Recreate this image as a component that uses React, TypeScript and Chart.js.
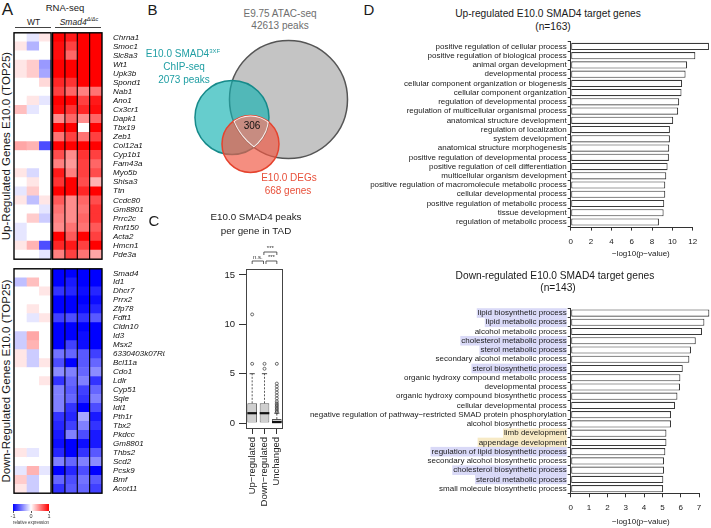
import React, { useEffect, useRef } from 'react';
import { Chart, registerables } from 'chart.js';

Chart.register(...registerables);

const FONT = "'Liberation Sans', Arial, Helvetica, sans-serif";
Chart.defaults.font.family = FONT;
Chart.defaults.color = '#1a1a1a';

// ---------------- Panel A : RNA-seq heatmaps ----------------
const heatSamples = ['WT 1', 'WT 2', 'WT 3', 'Smad4 1', 'Smad4 2', 'Smad4 3', 'Smad4 4'];
const heatWTCount = 3;
const colorbarTicks = [-1, 0, 1];

const upGenes = ['Chrna1', 'Smoc1', 'Slc8a3', 'Wt1', 'Upk3b', 'Spond1', 'Nab1', 'Ano1', 'Cx3cr1', 'Dapk1', 'Tbx19', 'Zeb1', 'Col12a1', 'Cyp1b1', 'Fam43a', 'Myo5b', 'Shisa3', 'Ttn', 'Ccdc80', 'Gm8801', 'Prrc2c', 'Rnf150', 'Acta2', 'Hmcn1', 'Pde3a'];
const upExpr = [
  [0, -0.1, 0.1, 1, 0.9, 1, 1],
  [0.1, -0.3, 0, 0.95, 0.75, 1, 1],
  [0, 0, 0, 0.95, 0.6, 1, 1],
  [0.1, 0.2, -0.4, 1, 1, 1, 1],
  [0.1, 0.2, -0.35, 1, 1, 1, 1],
  [0, 0, 0.15, 0.85, 0.8, 1, 1],
  [0, 0, 0, 0.75, 0.6, 0.5, 0.55],
  [0, 0.1, -0.1, 1, 1, 0.75, 0.9],
  [0.25, -0.1, 0, 0.95, 0.8, 0.85, 0.95],
  [0, 0, 0, 0.45, 0.6, 0.45, 0.6],
  [0, 0, 0, 1, 1, 0, 1],
  [0, 0, 0, 0.55, 0.75, 0.55, 0.75],
  [0.35, 0.3, -0.7, 1, 1, 1, 1],
  [0, 0, 0, 0.7, 0.45, 0.8, 0.75],
  [0, 0, 0, 0.5, 0.4, 0.75, 0.6],
  [0.1, -0.15, 0, 0.9, 0.5, 0.75, 0.7],
  [0, 0.1, 0, 0.8, 1, 0.7, 0.3],
  [-0.1, 0.2, 0, 1, 1, 0.85, 1],
  [0.1, -0.25, 0.1, 0.65, 0.45, 0.6, 0.7],
  [0, 0, -0.1, 0.55, 0.45, 0.55, 0.8],
  [0, 0.2, -0.2, 0.5, 0.45, 0.6, 0.8],
  [-0.1, 0, 0, 0.45, 0.55, 0.55, 0.65],
  [-0.1, 0, 0, 1, 0.65, 1, 0.75],
  [0.1, 0.3, -0.7, 0.85, 0.9, 0.75, 1],
  [0, 0, -0.1, 0.5, 0.75, 0.55, 0.35],
];

const downGenes = ['Smad4', 'Id1', 'Dhcr7', 'Prrx2', 'Zfp78', 'Fdft1', 'Cldn10', 'Id3', 'Msx2', '6330403k07Rik', 'Bcl11a', 'Cdo1', 'Ldlr', 'Cyp51', 'Sqle', 'Idi1', 'Pth1r', 'Tbx2', 'Pkdcc', 'Gm8801', 'Thbs2', 'Scd2', 'Pcsk9', 'Bmf', 'Acot11'];
const downExpr = [
  [0, 0, 0, -1, -1, -1, -1],
  [-0.25, 0.25, 0, -1, -0.9, -1, -1],
  [0, 0, 0.1, -0.8, -0.85, -0.95, -0.85],
  [0, 0, 0, -1, -1, -1, -0.95],
  [0, 0.1, 0, -1, -1, -0.95, -0.85],
  [0, -0.1, 0.1, -0.75, -0.7, -0.8, -0.65],
  [0, 0, 0, -1, -1, -1, -1],
  [-0.2, 0.35, 0, -1, -1, -0.95, -1],
  [-0.2, 0.3, 0, -1, -0.75, -0.95, -1],
  [0.1, -0.2, 0, -0.55, -0.6, -0.65, -0.75],
  [0.1, -0.2, 0.1, -0.7, -1, -0.65, -0.6],
  [0, 0, 0, -0.45, -0.5, -0.6, -0.45],
  [0, 0, 0.1, -0.8, -0.6, -0.5, -0.8],
  [0, 0, 0, -0.5, -0.65, -0.75, -0.6],
  [0, 0, 0, -0.5, -0.6, -0.8, -0.5],
  [0, 0, 0, -0.5, -0.8, -1, -0.7],
  [0, 0, 0, -0.8, -0.85, -0.35, -0.9],
  [0, 0, 0, -0.85, -0.75, -0.5, -0.8],
  [0, 0, 0, -0.9, -0.5, -0.7, -0.9],
  [0, 0, 0, -0.95, -1, -0.95, -0.9],
  [0.1, -0.1, 0, -0.85, -1, -0.8, -0.65],
  [0, 0, 0, -0.5, -0.6, -0.5, -0.45],
  [-0.1, 0.3, -0.1, -1, -0.85, -0.7, -1],
  [0.2, -0.2, 0, -0.6, -0.7, -0.55, -0.65],
  [0.1, -0.2, 0, -0.8, -0.65, -0.6, -0.75],
];

// ---------------- Panel B : Venn ----------------
const vennNames = ['E9.75 ATAC-seq', 'E10.0 SMAD4 ChIP-seq', 'E10.0 DEGs'];
const vennCounts = [42613, 2073, 668];
const vennTripleOverlap = 306;

// ---------------- Panel C : box plot ----------------
const boxCategories = ['Up\u2212regulated', 'Down\u2212regulated', 'Unchanged'];
const boxQ1 = [0, 0, 0];
const boxMedian = [1, 1, 0.1];
const boxQ3 = [2, 2, 0.4];
const boxWhiskerHigh = [5, 5, 1];
const boxOutliers = [
  [6, 11],
  [5.5, 6],
  [1.1, 1.25, 1.4, 1.55, 1.7, 1.85, 2, 2.2, 2.5, 2.8, 3.1, 3.4, 3.7, 4, 6],
];
const boxYTicks = [0, 5, 10, 15];
const sigLabels = ['n.s.', '***', '***'];

// ---------------- Panel D : GO enrichment ----------------
const upTerms = [
  'positive regulation of cellular process',
  'positive regulation of biological process',
  'animal organ development',
  'developmental process',
  'cellular component organization or biogenesis',
  'cellular component organization',
  'regulation of developmental process',
  'regulation of multicellular organismal process',
  'anatomical structure development',
  'regulation of localization',
  'system development',
  'anatomical structure morphogenesis',
  'positive regulation of developmental process',
  'positive regulation of cell differentiation',
  'multicellular organism development',
  'positive regulation of macromolecule metabolic process',
  'cellular developmental process',
  'positive regulation of metabolic process',
  'tissue development',
  'regulation of metabolic process',
];
const upLogP = [13.6, 12.26, 11.45, 11.3, 10.96, 10.9, 10.67, 10.57, 10.08, 9.76, 9.76, 9.69, 9.66, 9.53, 9.4, 9.3, 9.3, 9.2, 9.14, 8.68];
const upXTicks = [0, 2, 4, 6, 8, 10, 12];

const downTerms = [
  'lipid biosynthetic process',
  'lipid metabolic process',
  'alcohol metabolic process',
  'cholesterol metabolic process',
  'sterol metabolic process',
  'secondary alcohol metabolic process',
  'sterol biosynthetic process',
  'organic hydroxy compound metabolic process',
  'developmental process',
  'organic hydroxy compound biosynthetic process',
  'cellular developmental process',
  'negative regulation of pathway\u2212restricted SMAD protein phosphorylation',
  'alcohol biosynthetic process',
  'limb development',
  'appendage development',
  'regulation of lipid biosynthetic process',
  'secondary alcohol biosynthetic process',
  'cholesterol biosynthetic process',
  'steroid metabolic process',
  'small molecule biosynthetic process',
];
const downLogP = [7.56, 7.29, 7.16, 6.82, 6.56, 6.47, 6.11, 5.98, 5.96, 5.82, 5.69, 5.47, 5.47, 5.22, 5.22, 5.16, 5.09, 5.09, 5.05, 5.04];
const downTermGroup = ['lipid', 'lipid', '', 'lipid', 'lipid', '', 'lipid', '', '', '', '', '', '', 'limb', 'limb', 'lipid', '', 'lipid', 'lipid', ''];
const downXTicks = [0, 1, 2, 3, 4, 5, 6, 7];

// ---------------- styles / layout constants ----------------
const GROUP_GAP = 0.12;
const HL_COLORS = { lipid: '#d9d9f7', limb: '#f7eac6', '': 'rgba(0,0,0,0)' };
const VENN_GEOM = [
  { x: 0, y: 0, r: 1 },
  { x: -0.958, y: -0.305, r: 0.627 },
  { x: -0.644, y: -0.754, r: 0.483 },
];
const VENN_FILL = ['rgba(196,196,196,1)', 'rgba(20,178,178,0.65)', 'rgba(240,88,68,0.68)'];
const VENN_BORDER = ['#555555', '#168a8a', '#e5432e'];
const BOX_FRAC = 0.78;

function heatColor(v: number) {
  const t = Math.max(-1, Math.min(1, v));
  if (t >= 0) {
    const c = Math.round(255 * (1 - t));
    return `rgb(255,${c},${c})`;
  }
  const c = Math.round(255 * (1 + t));
  return `rgb(${c},${c},255)`;
}

const heatFramePlugin = {
  id: 'heatFrame',
  afterDatasetsDraw(chart: any) {
    const { ctx, chartArea } = chart;
    const xs = chart.scales.x;
    const p = (v: number) => xs.getPixelForValue(v);
    const nMut = heatSamples.length - heatWTCount;
    const m0 = heatWTCount + GROUP_GAP;
    const h = chartArea.bottom - chartArea.top;
    ctx.save();
    ctx.strokeStyle = '#000';
    ctx.lineWidth = 1.4;
    ctx.strokeRect(p(0), chartArea.top, p(heatWTCount) - p(0), h);
    ctx.strokeRect(p(m0), chartArea.top, p(m0 + nMut) - p(m0), h);
    ctx.lineWidth = 1.1;
    for (let k = 1; k < nMut; k++) {
      ctx.beginPath();
      ctx.moveTo(p(m0 + k), chartArea.top);
      ctx.lineTo(p(m0 + k), chartArea.bottom);
      ctx.stroke();
    }
    ctx.restore();
  },
};

function heatmapConfig(genes: string[], rows: number[][]) {
  const datasets: any[] = [];
  heatSamples.forEach((s, j) => {
    if (j === heatWTCount) {
      datasets.push({ label: 'gap', data: genes.map(() => GROUP_GAP), backgroundColor: 'rgba(0,0,0,0)' });
    }
    datasets.push({ label: s, data: genes.map(() => 1), backgroundColor: rows.map((r) => heatColor(r[j])) });
  });
  return {
    type: 'bar',
    data: { labels: genes, datasets },
    options: {
      indexAxis: 'y',
      responsive: false,
      animation: false,
      events: [],
      layout: { padding: { left: 14, top: 5, bottom: 5, right: 0 } },
      datasets: { bar: { barPercentage: 1, categoryPercentage: 1, borderWidth: 0 } },
      plugins: { legend: { display: false }, tooltip: { enabled: false } },
      scales: {
        x: { type: 'linear', stacked: true, display: false, min: 0, max: heatSamples.length + GROUP_GAP },
        y: {
          type: 'category',
          stacked: true,
          position: 'right',
          grid: { display: false },
          border: { display: false },
          ticks: { autoSkip: false, padding: 3, font: { size: 8, style: 'italic' }, color: '#111' },
          afterFit: (s: any) => { s.width = 63; },
        },
      },
    },
    plugins: [heatFramePlugin],
  };
}

function colorbarConfig() {
  return {
    type: 'bar',
    data: {
      labels: [''],
      datasets: [{
        data: [[colorbarTicks[0], colorbarTicks[colorbarTicks.length - 1]]],
        backgroundColor: (c: any) => {
          const { chart } = c;
          const a = chart.chartArea;
          if (!a || !isFinite(a.left)) return '#fff';
          const g = chart.ctx.createLinearGradient(a.left, 0, a.right, 0);
          g.addColorStop(0, heatColor(-1));
          g.addColorStop(0.5, heatColor(0));
          g.addColorStop(1, heatColor(1));
          return g;
        },
        borderWidth: 0,
        barPercentage: 1,
        categoryPercentage: 1,
      }],
    },
    options: {
      indexAxis: 'y',
      responsive: false,
      animation: false,
      events: [],
      layout: { padding: { left: 8, right: 12, top: 4, bottom: 0 } },
      plugins: { legend: { display: false }, tooltip: { enabled: false } },
      scales: {
        x: {
          type: 'linear', min: -1, max: 1,
          afterBuildTicks: (s: any) => { s.ticks = colorbarTicks.map((v) => ({ value: v })); },
          grid: { drawOnChartArea: false, tickLength: 2, color: '#555' },
          border: { display: false },
          ticks: { font: { size: 5.5 }, padding: 0, color: '#333' },
          title: { display: true, text: 'relative expression', font: { size: 5.5 }, padding: 0, color: '#333' },
          afterFit: (s: any) => { s.height = 15; },
        },
        y: { display: false },
      },
    },
  };
}

// Venn circles: centres are scatter points placed by the scales; radii are converted
// from data units to pixels through the x scale.
function vennCircles(chart: any) {
  const xs = chart.scales.x;
  return chart.data.datasets.map((_: any, i: number) => {
    const el = chart.getDatasetMeta(i).data[0];
    const r = Math.abs(xs.getPixelForValue(VENN_GEOM[i].r) - xs.getPixelForValue(0));
    return { x: el.x, y: el.y, r };
  });
}

const vennPlugin = {
  id: 'vennCircles',
  afterDatasetsDraw(chart: any) {
    const { ctx } = chart;
    const circles = vennCircles(chart);
    if (!circles.every((c: any) => isFinite(c.x) && isFinite(c.y) && isFinite(c.r) && c.r > 0)) return;
    // circles (gray first, then teal, then salmon on top)
    circles.forEach((c: any, i: number) => {
      ctx.save();
      ctx.beginPath();
      ctx.arc(c.x, c.y, c.r, 0, Math.PI * 2);
      ctx.fillStyle = VENN_FILL[i];
      ctx.fill();
      ctx.lineWidth = 1.5;
      ctx.strokeStyle = VENN_BORDER[i];
      ctx.stroke();
      ctx.restore();
    });
    // highlight triple intersection
    ctx.save();
    circles.forEach((c: any) => { ctx.beginPath(); ctx.arc(c.x, c.y, c.r, 0, Math.PI * 2); ctx.clip(); });
    ctx.fillStyle = 'rgba(255,255,255,0.16)';
    ctx.fillRect(0, 0, chart.width, chart.height);
    ctx.strokeStyle = 'rgba(255,255,255,0.9)';
    ctx.lineWidth = 2;
    circles.forEach((c: any) => { ctx.beginPath(); ctx.arc(c.x, c.y, c.r, 0, Math.PI * 2); ctx.stroke(); });
    ctx.restore();
    // centroid of the triple intersection for its label
    const s = circles.reduce((a: any, b: any) => (a.r < b.r ? a : b));
    let sx = 0, sy = 0, n = 0;
    for (let px = s.x - s.r; px <= s.x + s.r; px += 1) {
      for (let py = s.y - s.r; py <= s.y + s.r; py += 1) {
        if (circles.every((c: any) => (px - c.x) ** 2 + (py - c.y) ** 2 <= c.r * c.r)) { sx += px; sy += py; n++; }
      }
    }
    if (n) {
      ctx.save();
      ctx.fillStyle = '#111';
      ctx.font = `10px ${FONT}`;
      ctx.textAlign = 'center';
      ctx.textBaseline = 'middle';
      ctx.fillText(String(vennTripleOverlap), sx / n, sy / n - 2);
      ctx.restore();
    }
  },
};

function vennConfig() {
  return {
    type: 'scatter',
    data: {
      datasets: VENN_GEOM.map((g, i) => ({
        label: `${vennNames[i]} (${vennCounts[i]})`,
        data: [{ x: g.x, y: g.y }],
        pointRadius: 0,
        pointHoverRadius: 0,
      })),
    },
    options: {
      responsive: false,
      animation: false,
      events: [],
      layout: { autoPadding: false, padding: 0 },
      plugins: { legend: { display: false }, tooltip: { enabled: false } },
      scales: {
        x: { type: 'linear', display: false, min: -1.669, max: 1.127 },
        y: { type: 'linear', display: false, min: -1.28, max: 1.042 },
      },
    },
    plugins: [vennPlugin],
  };
}

const boxFramePlugin = {
  id: 'boxFrame',
  afterDraw(chart: any) {
    const { ctx, chartArea: a } = chart;
    const xs = chart.scales.x;
    ctx.save();
    ctx.strokeStyle = '#444';
    ctx.lineWidth = 1;
    ctx.strokeRect(Math.round(a.left) + 0.5, Math.round(a.top) + 0.5, Math.round(a.right - a.left) - 1, Math.round(a.bottom - a.top) - 1);
    // significance brackets
    const px = (i: number) => xs.getPixelForValue(i);
    const brackets = [
      { from: 0, to: 0.92, level: 0, label: sigLabels[0] },
      { from: 1.12, to: 2, level: 0, label: sigLabels[1] },
      { from: 0.95, to: 2, level: 1, label: sigLabels[2] },
    ];
    ctx.lineWidth = 0.8;
    ctx.strokeStyle = '#333';
    ctx.fillStyle = '#333';
    ctx.font = `6px ${FONT}`;
    ctx.textAlign = 'center';
    ctx.textBaseline = 'bottom';
    brackets.forEach((b) => {
      const y = a.top - 8 - b.level * 9;
      ctx.beginPath();
      ctx.moveTo(px(b.from), y + 3);
      ctx.lineTo(px(b.from), y);
      ctx.lineTo(px(b.to), y);
      ctx.lineTo(px(b.to), y + 3);
      ctx.stroke();
      ctx.fillText(b.label, (px(b.from) + px(b.to)) / 2, y - 0.5);
    });
    ctx.restore();
  },
};

function boxConfig() {
  const half = (c: any) => {
    const xs = c.chart.scales && c.chart.scales.x;
    const v = xs ? (xs.width / boxCategories.length) * BOX_FRAC / 2 : 0;
    return isFinite(v) ? v : 0;
  };
  return {
    type: 'bar',
    data: {
      labels: boxCategories,
      datasets: [
        {
          type: 'bar',
          data: boxCategories.map((_, i) => [boxQ1[i], boxQ3[i]]),
          backgroundColor: '#cfcfcf',
          borderColor: '#555',
          borderWidth: 0.9,
          borderSkipped: false,
          barPercentage: BOX_FRAC,
          categoryPercentage: 1,
          grouped: false,
          order: 5,
        },
        {
          type: 'line',
          data: boxCategories.flatMap((c, i) => [{ x: c, y: boxQ3[i] }, { x: c, y: boxWhiskerHigh[i] }, { x: c, y: null }]),
          borderColor: '#333',
          borderWidth: 0.8,
          borderDash: [2, 1.5],
          pointRadius: 0,
          spanGaps: false,
          order: 4,
        },
        {
          type: 'scatter',
          data: boxCategories.map((c, i) => ({ x: c, y: boxWhiskerHigh[i] })),
          pointStyle: 'line',
          pointRadius: 2.6,
          pointBorderWidth: 0.9,
          pointBorderColor: '#333',
          order: 3,
        },
        {
          type: 'scatter',
          data: boxCategories.map((c, i) => ({ x: c, y: boxMedian[i] })),
          pointStyle: 'line',
          pointRadius: half,
          pointBorderWidth: 2.2,
          pointBorderColor: '#111',
          order: 2,
        },
        {
          type: 'scatter',
          data: boxCategories.flatMap((c, i) => boxOutliers[i].map((v) => ({ x: c, y: v }))),
          pointStyle: 'circle',
          pointRadius: 1.5,
          pointBorderWidth: 0.7,
          pointBorderColor: '#333',
          pointBackgroundColor: 'rgba(0,0,0,0)',
          order: 1,
        },
      ],
    },
    options: {
      responsive: false,
      animation: false,
      events: [],
      layout: { autoPadding: false, padding: { left: 0, right: 17, top: 31, bottom: 0 } },
      plugins: { legend: { display: false }, tooltip: { enabled: false } },
      scales: {
        x: {
          type: 'category',
          grid: { drawOnChartArea: false, tickLength: 5, offset: false, color: '#333' },
          border: { display: false },
          ticks: { autoSkip: false, minRotation: 90, maxRotation: 90, padding: 3, font: { size: 9.5 }, color: '#1a1a1a' },
          afterFit: (s: any) => { s.height = 89; },
        },
        y: {
          type: 'linear',
          min: -0.6,
          max: 15.6,
          afterBuildTicks: (s: any) => { s.ticks = boxYTicks.map((v) => ({ value: v })); },
          grid: { drawOnChartArea: false, tickLength: 7, color: '#333' },
          border: { display: false },
          ticks: { padding: 4, font: { size: 9.5 }, color: '#1a1a1a' },
          afterFit: (s: any) => { s.width = 46; },
        },
      },
    },
    plugins: [boxFramePlugin],
  };
}

const rAxisPlugin = {
  id: 'rAxis',
  afterDraw(chart: any) {
    const { ctx, chartArea } = chart;
    const xs = chart.scales.x;
    const t = xs.ticks;
    const y = Math.round(chartArea.bottom) + 0.5;
    ctx.save();
    ctx.strokeStyle = '#333';
    ctx.lineWidth = 1;
    ctx.beginPath();
    ctx.moveTo(xs.getPixelForValue(t[0].value), y);
    ctx.lineTo(xs.getPixelForValue(t[t.length - 1].value), y);
    ctx.stroke();
    ctx.restore();
  },
};

function goConfig(terms: string[], values: number[], xMax: number, xTicks: number[], padTop: number, xHeight: number, titlePadBottom: number, groups?: string[]) {
  return {
    type: 'bar',
    data: {
      labels: terms,
      datasets: [{
        data: values,
        backgroundColor: '#ffffff',
        borderColor: '#3a3a3a',
        borderWidth: 1.1,
        borderSkipped: false,
        barPercentage: 0.78,
        categoryPercentage: 1,
      }],
    },
    options: {
      indexAxis: 'y',
      responsive: false,
      animation: false,
      events: [],
      layout: { padding: { left: 0, right: 0, top: padTop, bottom: 0 } },
      plugins: { legend: { display: false }, tooltip: { enabled: false } },
      scales: {
        x: {
          type: 'linear',
          min: 0,
          max: xMax,
          afterBuildTicks: (s: any) => { s.ticks = xTicks.map((v) => ({ value: v })); },
          grid: { drawOnChartArea: false, tickLength: 4, color: '#333' },
          border: { display: false },
          ticks: { font: { size: 8 }, padding: 6, color: '#1a1a1a' },
          title: { display: true, text: '\u2212log10(p\u2212value)', font: { size: 8 }, padding: { top: 0, bottom: titlePadBottom }, color: '#1a1a1a' },
          afterFit: (s: any) => { s.height = xHeight; },
        },
        y: {
          type: 'category',
          grid: { drawOnChartArea: false, tickLength: 3, color: '#333' },
          border: { display: true, color: '#333' },
          ticks: {
            autoSkip: false,
            font: { size: 8 },
            padding: 1,
            color: '#1a1a1a',
            showLabelBackdrop: !!groups,
            backdropColor: (c: any) => (groups ? (HL_COLORS as any)[groups[c.index] || ''] : 'rgba(0,0,0,0)'),
            backdropPadding: { top: 0, bottom: 0, left: 1, right: 0 },
          },
          afterFit: (s: any) => { s.width = 280.7; },
        },
      },
    },
    plugins: [rAxisPlugin],
  };
}

function ChartCanvas({ left, top, width, height, make }: any) {
  const ref = useRef<HTMLCanvasElement>(null);
  useEffect(() => {
    const chart = new Chart(ref.current as any, make());
    return () => chart.destroy();
  }, []);
  return <canvas ref={ref} width={width} height={height} style={{ position: 'absolute', left, top, width, height }} />;
}

function Txt({ x, y, size = 9.5, color = '#1a1a1a', italic = false, rotate = 0, children }: any) {
  return (
    <div
      style={{
        position: 'absolute', left: x, top: y,
        transform: `translate(-50%, -50%)${rotate ? ` rotate(${rotate}deg)` : ''}`,
        fontFamily: FONT, fontSize: size, color, lineHeight: 1, whiteSpace: 'nowrap',
        fontStyle: italic ? 'italic' : 'normal',
      }}
    >
      {children}
    </div>
  );
}

function HLine({ x1, x2, y, color = '#444' }: any) {
  return <div style={{ position: 'absolute', left: x1, top: y, width: x2 - x1, height: 0, borderTop: `1px solid ${color}` }} />;
}

const TEAL_TEXT = '#1f9ea3';
const RED_TEXT = '#e8503a';
const GRAY_TEXT = '#6e6e6e';

export default function App() {
  return (
    <div style={{ position: 'absolute', left: 0, top: 0, width: 711, height: 528, background: '#fff', overflow: 'hidden' }}>
      {/* Panel A */}
      <Txt x={7.5} y={9} size={17}>A</Txt>
      <Txt x={65} y={7.5} size={9.5}>RNA-seq</Txt>
      <Txt x={33.5} y={21.5} size={8.5}>WT</Txt>
      <HLine x1={15} x2={51} y={27} />
      <Txt x={79} y={21.5} size={8.5} italic>
        Smad4<span style={{ fontSize: 5.5, position: 'relative', top: -3.5 }}>{'\u0394/\u0394c'}</span>
      </Txt>
      <HLine x1={55} x2={101} y={27} />
      <Txt x={7} y={146} size={11.5} rotate={-90}>Up-Regulated Genes E10.0 (TOP25)</Txt>
      <Txt x={7} y={381} size={11.5} rotate={-90}>Down-Regulated Genes E10.0 (TOP25)</Txt>
      <ChartCanvas left={0} top={25} width={165} height={242} make={() => heatmapConfig(upGenes, upExpr)} />
      <ChartCanvas left={0} top={261} width={165} height={240} make={() => heatmapConfig(downGenes, downExpr)} />
      <ChartCanvas left={5} top={500} width={56} height={26} make={colorbarConfig} />

      {/* Panel B */}
      <Txt x={152.5} y={9} size={15}>B</Txt>
      <ChartCanvas left={190} top={38} width={165} height={137} make={vennConfig} />
      <Txt x={280} y={14} size={10} color={GRAY_TEXT}>{vennNames[0]}</Txt>
      <Txt x={280} y={26} size={10} color={GRAY_TEXT}>{vennCounts[0]} peaks</Txt>
      <Txt x={183} y={54} size={10} color={TEAL_TEXT}>
        E10.0 SMAD4<span style={{ fontSize: 6, position: 'relative', top: -4 }}>3XF</span>
      </Txt>
      <Txt x={184} y={67} size={10} color={TEAL_TEXT}>ChIP-seq</Txt>
      <Txt x={184} y={80} size={10} color={TEAL_TEXT}>{vennCounts[1]} peaks</Txt>
      <Txt x={289} y={178} size={10} color={RED_TEXT}>{vennNames[2]}</Txt>
      <Txt x={288} y={190.5} size={10} color={RED_TEXT}>{vennCounts[2]} genes</Txt>

      {/* Panel C */}
      <Txt x={154} y={220} size={15}>C</Txt>
      <Txt x={256} y={216.5} size={9.8}>E10.0 SMAD4 peaks</Txt>
      <Txt x={256} y={230.5} size={9.8}>per gene in TAD</Txt>
      <ChartCanvas left={200} top={238} width={100} height={280} make={boxConfig} />

      {/* Panel D */}
      <Txt x={369} y={9} size={15}>D</Txt>
      <Txt x={548} y={14} size={10.2}>Up-regulated E10.0 SMAD4 target genes</Txt>
      <Txt x={553} y={26.5} size={10.2}>(n=163)</Txt>
      <ChartCanvas left={290} top={36} width={421} height={226} make={() => goConfig(upTerms, upLogP, 13.8, upXTicks, 5.4, 35.4, 3)} />
      <Txt x={555} y={276} size={10.2}>Down-regulated E10.0 SMAD4 target genes</Txt>
      <Txt x={558} y={287.5} size={10.2}>(n=143)</Txt>
      <ChartCanvas left={290} top={300} width={421} height={228} make={() => goConfig(downTerms, downLogP, 7.65, downXTicks, 8.4, 34.7, 1.2, downTermGroup)} />
    </div>
  );
}
